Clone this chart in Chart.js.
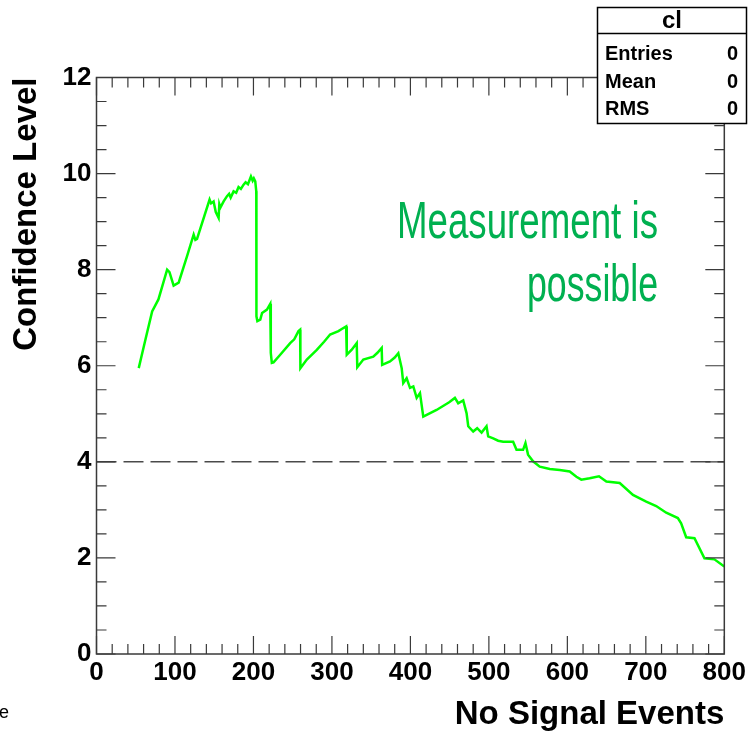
<!DOCTYPE html>
<html>
<head>
<meta charset="utf-8">
<script src="https://cdn.jsdelivr.net/npm/chart.js@4.4.1/dist/chart.umd.min.js"></script>
<style>
  html, body { margin: 0; padding: 0; background: #fff; }
  #wrap { width: 749px; height: 731px; position: relative; }
</style>
</head>
<body>
<div id="wrap"><canvas id="c" width="749" height="731"></canvas></div>
<script>
// number of "no signal" events (x) and confidence level (y)
const events = [
  53.8, 62.3, 70.9, 78.9, 90, 93, 98.3, 104.7, 115.4, 123.8, 126, 128.1,
  144.1, 146, 149.2, 152, 155.6, 156.5, 157.8, 162, 166.3, 169, 171, 174.7,
  178, 181, 184, 187.4, 190, 193, 196.8, 199, 200.5, 202.3, 203.6, 203.8,
  205, 208.7, 211, 217.2, 221.4, 222.1, 223.4, 225.6, 234.1, 246.8, 252,
  257.4, 259.5, 259.8, 268, 280.7, 290, 297.7, 308.3, 312, 318.1, 318.9,
  325, 331.6, 332.3, 340, 352.7, 358, 363.4, 364, 374, 380, 384.6, 388.9,
  390.9, 395.2, 399.5, 403.7, 408, 412.2, 416.4, 433.3, 449.4, 456.7, 460.9,
  467.3, 471.6, 473.7, 480, 485.1, 490.7, 497, 499.1, 505.5, 511.8, 518.2,
  530.9, 535.2, 543.6, 546.6, 549.9, 556.3, 564.8, 577.6, 590.3, 603, 611.5,
  617.8, 628.4, 640.3, 649.7, 666.7, 683.6, 700.5, 713.2, 726, 740.8, 745,
  751.4, 762, 774.7, 787.4, 800
];
const confidence = [
  5.95, 6.54, 7.13, 7.38, 8.0, 7.95, 7.67, 7.73, 8.28, 8.73, 8.62, 8.64,
  9.46, 9.38, 9.42, 9.2, 9.08, 9.36, 9.29, 9.42, 9.53, 9.58, 9.5, 9.63,
  9.6, 9.72, 9.68, 9.77, 9.82, 9.78, 9.94, 9.85, 9.9, 9.84, 9.63, 7.03,
  6.93, 6.96, 7.1, 7.17, 7.29, 6.27, 6.06, 6.07, 6.23, 6.47, 6.55,
  6.72, 6.75, 5.95, 6.13, 6.33, 6.5, 6.65, 6.72, 6.76, 6.82, 6.23,
  6.33, 6.47, 5.97, 6.13, 6.19, 6.27, 6.37, 6.02, 6.09, 6.17, 6.26, 5.95,
  5.64, 5.74, 5.54, 5.57, 5.33, 5.43, 4.94, 5.08, 5.24, 5.33, 5.22,
  5.28, 5.01, 4.74, 4.63, 4.70, 4.61, 4.74, 4.53, 4.49, 4.44, 4.42,
  4.42, 4.25, 4.25, 4.39, 4.15, 4.01, 3.90, 3.85, 3.83, 3.80, 3.69,
  3.63, 3.66, 3.70, 3.59, 3.56, 3.31, 3.17, 3.08, 2.94, 2.83, 2.72,
  2.43, 2.41, 1.99, 1.97, 1.82
];
const thresholdX = [0, 800];
const thresholdY = [4, 4];

const statsTitle = "cl";
const statsLabels = ["Entries", "Mean", "RMS"];
const statsValues = ["0", "0", "0"];
const noteLines = ["Measurement is", "possible"];

const FONT = '"Liberation Sans", Arial, Helvetica, sans-serif';

// ROOT style frame, inward ticks on all sides, stats box and note
const rootFrame = {
  id: "rootFrame",
  afterDraw(chart) {
    const ctx = chart.ctx;
    const { left, right, top, bottom } = chart.chartArea;
    const xs = chart.scales.x;
    const ys = chart.scales.y;
    ctx.save();

    ctx.strokeStyle = "#3a3a3a";
    ctx.lineWidth = 1.5;
    ctx.strokeRect(left, top, right - left, bottom - top);

    ctx.lineWidth = 1.2;
    ctx.beginPath();
    for (let v = 0; v <= 800; v += 20) {
      const px = xs.getPixelForValue(v);
      const len = v % 100 === 0 ? 18 : 10;
      ctx.moveTo(px, bottom);
      ctx.lineTo(px, bottom - len);
      ctx.moveTo(px, top);
      ctx.lineTo(px, top + len);
    }
    for (let v = 0; v <= 12; v += 0.5) {
      const py = ys.getPixelForValue(v);
      const len = v % 2 === 0 ? 19 : 10;
      ctx.moveTo(left, py);
      ctx.lineTo(left + len, py);
      ctx.moveTo(right, py);
      ctx.lineTo(right - len, py);
    }
    ctx.stroke();

    // note text
    ctx.fillStyle = "#00b050";
    ctx.font = '52px "Liberation Sans Narrow", "Liberation Sans", sans-serif';
    ctx.textAlign = "right";
    ctx.textBaseline = "alphabetic";
    ctx.fillText(noteLines[0], 658, 238, 261);
    ctx.fillText(noteLines[1], 658, 301, 131);

    // stats box
    const bx = 597.5, by = 7.5, bw = 149, bh = 116;
    ctx.fillStyle = "#fff";
    ctx.fillRect(bx, by, bw, bh);
    ctx.strokeStyle = "#000";
    ctx.lineWidth = 1.5;
    ctx.strokeRect(bx, by, bw, bh);
    ctx.beginPath();
    ctx.moveTo(bx, 33.5);
    ctx.lineTo(bx + bw, 33.5);
    ctx.stroke();

    ctx.fillStyle = "#000";
    ctx.textBaseline = "middle";
    ctx.textAlign = "center";
    ctx.font = "bold 24px " + FONT;
    ctx.fillText(statsTitle, bx + bw / 2, 21);
    ctx.font = "bold 20px " + FONT;
    const rowY = [54, 82, 109];
    statsLabels.forEach((lab, i) => {
      ctx.textAlign = "left";
      ctx.fillText(lab, 605, rowY[i]);
      ctx.textAlign = "right";
      ctx.fillText(statsValues[i], 738, rowY[i]);
    });

    // stray fragment at the lower left
    ctx.textAlign = "left";
    ctx.textBaseline = "alphabetic";
    ctx.font = "18px " + FONT;
    ctx.fillText("e", -1, 718);

    ctx.restore();
  },
};

const ctx = document.getElementById("c").getContext("2d");

new Chart(ctx, {
  type: "line",
  data: {
    datasets: [
      {
        label: "threshold",
        data: thresholdX.map((x, i) => ({ x: x, y: thresholdY[i] })),
        borderColor: "#4a4a4a",
        borderWidth: 1.5,
        borderDash: [20, 7],
        pointRadius: 0,
        tension: 0,
      },
      {
        label: "cl",
        data: events.map((x, i) => ({ x: x, y: confidence[i] })),
        borderColor: "#00ff00",
        borderWidth: 2.5,
        pointRadius: 0,
        tension: 0,
      },
    ],
  },
  options: {
    responsive: false,
    animation: false,
    devicePixelRatio: 1,
    layout: { padding: { top: 77.5, right: 24, left: 0, bottom: 0 } },
    plugins: {
      legend: { display: false },
      tooltip: { enabled: false },
    },
    scales: {
      x: {
        type: "linear",
        min: 0,
        max: 800,
        grid: { display: false, drawTicks: false },
        border: { display: false },
        ticks: {
          stepSize: 100,
          color: "#000",
          padding: 3,
          maxRotation: 0,
          font: { family: FONT, size: 26, weight: "bold" },
        },
        title: {
          display: true,
          text: "No Signal Events",
          align: "end",
          color: "#000",
          padding: { top: 0, bottom: 0 },
          font: { family: FONT, size: 33, weight: "bold", lineHeight: 1.0 },
        },
        afterFit(scale) {
          scale.height = 77;
        },
      },
      y: {
        min: 0,
        max: 12,
        grid: { display: false, drawTicks: false },
        border: { display: false },
        ticks: {
          stepSize: 2,
          color: "#000",
          padding: 5,
          font: { family: FONT, size: 26, weight: "bold" },
        },
        title: {
          display: true,
          text: "Confidence Level",
          align: "end",
          color: "#000",
          padding: { top: 10, bottom: 0 },
          font: { family: FONT, size: 33, weight: "bold", lineHeight: 1.0 },
        },
        afterFit(scale) {
          scale.width = 96.5;
        },
      },
    },
  },
  plugins: [rootFrame],
});
</script>
</body>
</html>
